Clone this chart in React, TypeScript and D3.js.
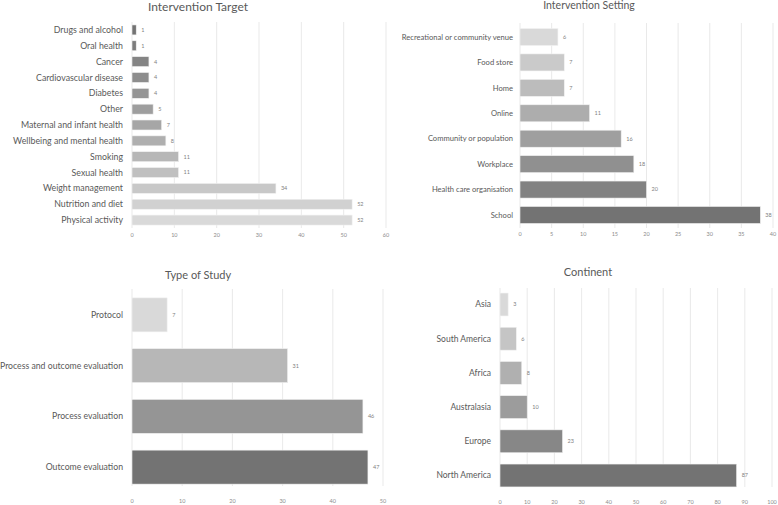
import React from "react";
import * as d3 from "d3";

const targetCats = ["Drugs and alcohol","Oral health","Cancer","Cardiovascular disease","Diabetes","Other","Maternal and infant health","Wellbeing and mental health","Smoking","Sexual health","Weight management","Nutrition and diet","Physical activity"];
const targetVals = [1,1,4,4,4,5,7,8,11,11,34,52,52];
const targetTicks = [0,10,20,30,40,50,60];

const settingCats = ["Recreational or community venue","Food store","Home","Online","Community or population","Workplace","Health care organisation","School"];
const settingVals = [6,7,7,11,16,18,20,38];
const settingTicks = [0,5,10,15,20,25,30,35,40];

const studyCats = ["Protocol","Process and outcome evaluation","Process evaluation","Outcome evaluation"];
const studyVals = [7,31,46,47];
const studyTicks = [0,10,20,30,40,50];

const contCats = ["Asia","South America","Africa","Australasia","Europe","North America"];
const contVals = [3,6,8,10,23,87];
const contTicks = [0,10,20,30,40,50,60,70,80,90,100];

const FONT = "Lato, 'Open Sans', sans-serif";

type PanelProps = {
  title: string; titleX: number; titleY: number; titleSize: number;
  cats: string[]; vals: number[]; ticks: number[];
  x0: number; x1: number; bandTop: number; bandBottom: number; padding: number;
  gridTop: number; gridBottom: number; tickY: number;
  labelSize: number; labelGap: number; darkFirst: boolean;
};

function Panel(p: PanelProps) {
  const x = d3.scaleLinear().domain([0, p.ticks[p.ticks.length - 1]]).range([p.x0, p.x1]);
  const y = d3.scaleBand<string>().domain(p.cats).range([p.bandTop, p.bandBottom]).paddingInner(p.padding).paddingOuter(p.padding / 2);
  const n = p.cats.length;
  const col = d3.interpolateRgb("#737373", "#d9d9d9");
  return (
    <g>
      <text x={p.titleX} y={p.titleY} textAnchor="middle" fontSize={p.titleSize} fill="#595959" fontFamily={FONT}>{p.title}</text>
      {p.ticks.map((t) => (
        <g key={t}>
          <line x1={x(t)} x2={x(t)} y1={p.gridTop} y2={p.gridBottom} stroke="#e3e3e3" strokeWidth={0.8} />
          <text x={x(t)} y={p.tickY} textAnchor="middle" fontSize={5.5} fill="#8c8c8c" fontFamily={FONT}>{t}</text>
        </g>
      ))}
      {p.cats.map((c, i) => {
        const frac = n > 1 ? i / (n - 1) : 0;
        const fill = col(p.darkFirst ? frac : 1 - frac);
        const yy = y(c)!;
        const bw = y.bandwidth();
        return (
          <g key={c}>
            <rect x={x(0)} y={yy} width={x(p.vals[i]) - x(0)} height={bw} fill={fill} stroke="#f2f2f2" strokeWidth={0.6} />
            <text x={x(0) - p.labelGap} y={yy + bw / 2} dy="0.35em" textAnchor="end" fontSize={p.labelSize} fill="#595959" fontFamily={FONT}>{c}</text>
            <text x={x(p.vals[i]) + 5} y={yy + bw / 2} dy="0.35em" fontSize={5.5} fill="#7f7f7f" fontFamily={FONT}>{p.vals[i]}</text>
          </g>
        );
      })}
    </g>
  );
}

export default function App() {
  return (
    <svg width={778} height={505} style={{ position: "absolute", left: 0, top: 0, background: "#fff" }}>
      <rect width={778} height={505} fill="#fff" />
      <Panel title="Intervention Target" titleX={198} titleY={11} titleSize={12}
        cats={targetCats} vals={targetVals} ticks={targetTicks}
        x0={132} x1={386} bandTop={22} bandBottom={228} padding={0.37}
        gridTop={22} gridBottom={228} tickY={237} labelSize={8.8} labelGap={9} darkFirst={true} />
      <Panel title="Intervention Setting" titleX={589} titleY={9} titleSize={10.5}
        cats={settingCats} vals={settingVals} ticks={settingTicks}
        x0={520} x1={773} bandTop={24.3} bandBottom={227.7} padding={0.33}
        gridTop={23} gridBottom={228} tickY={236} labelSize={7.6} labelGap={7} darkFirst={false} />
      <Panel title="Type of Study" titleX={198} titleY={279} titleSize={11}
        cats={studyCats} vals={studyVals} ticks={studyTicks}
        x0={132} x1={383} bandTop={289.5} bandBottom={492.5} padding={0.33}
        gridTop={289} gridBottom={486} tickY={503} labelSize={8.7} labelGap={9} darkFirst={false} />
      <Panel title="Continent" titleX={588} titleY={276} titleSize={11}
        cats={contCats} vals={contVals} ticks={contTicks}
        x0={500} x1={772} bandTop={287.4} bandBottom={492.6} padding={0.33}
        gridTop={288} gridBottom={487} tickY={504} labelSize={8.5} labelGap={9} darkFirst={false} />
    </svg>
  );
}
